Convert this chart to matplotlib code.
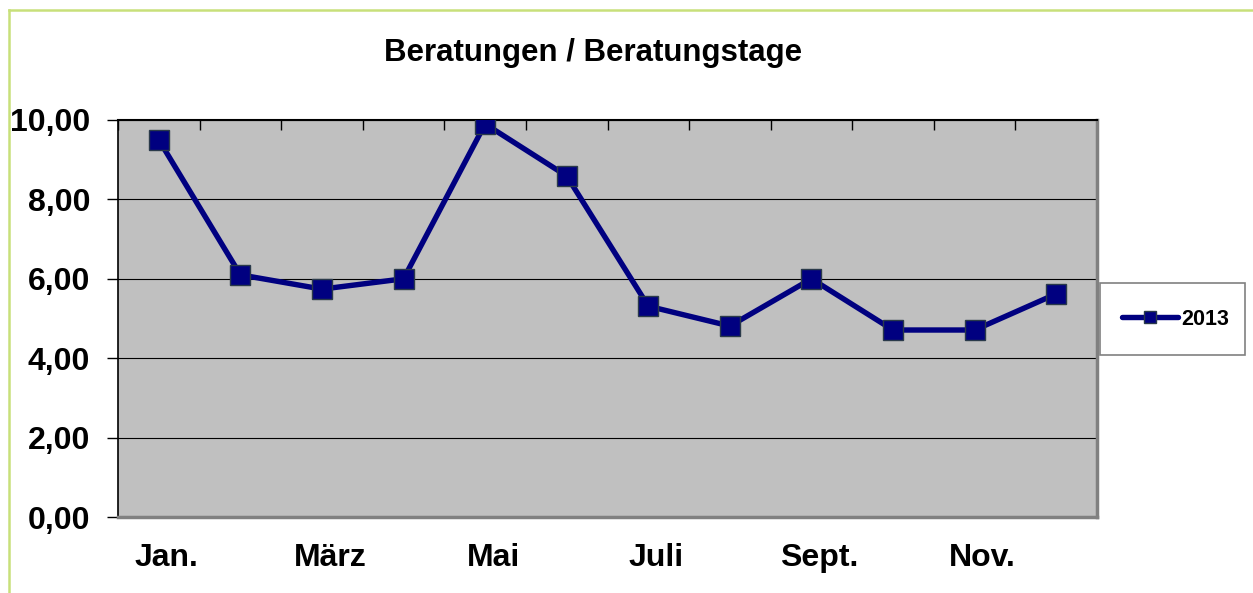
import matplotlib.pyplot as plt
from matplotlib.lines import Line2D
from matplotlib.patches import Rectangle
from matplotlib.transforms import ScaledTranslation

MONTHS = ["Jan.", "Feb.", "März", "April", "Mai", "Juni",
          "Juli", "Aug.", "Sept.", "Okt.", "Nov.", "Dez."]
VALUES_2013 = [9.50, 6.10, 5.74, 6.00, 9.90, 8.59, 5.31, 4.81, 6.00, 4.71, 4.71, 5.62]
Y_TICKS = [0, 2, 4, 6, 8, 10]
SERIES_LABEL = "2013"
TITLE = "Beratungen / Beratungstage"

NAVY = "#000080"
MARKER_EDGE = "#2A3A4A"
PLOT_BG = "#C0C0C0"
BORDER_GRAY = "#808080"
FRAME_GREEN = "#C8E07A"

W, H = 1253, 593
fig = plt.figure(figsize=(W / 100, H / 100), dpi=100, facecolor="white")
plt.rcParams["font.family"] = ["Liberation Sans", "DejaVu Sans"]

# plot area in pixel coords -> figure fractions
left, right, top, bottom = 118, 1097, 120, 517
ax = fig.add_axes([left / W, 1 - bottom / H, (right - left) / W, (bottom - top) / H])
ax.set_facecolor(PLOT_BG)

x = list(range(len(MONTHS)))
ax.plot(x, VALUES_2013, color=NAVY, linewidth=3.9, marker="s", markersize=14,
        markerfacecolor=NAVY, markeredgecolor=MARKER_EDGE, markeredgewidth=1.0,
        solid_joinstyle="round", zorder=3)

ax.set_xlim(-0.5, len(MONTHS) - 0.5)
ax.set_ylim(0, 10)

ax.set_yticks(Y_TICKS)
ax.set_yticklabels([f"{v:.2f}".replace(".", ",") for v in Y_TICKS],
                   fontsize=23, fontweight="bold")
ax.tick_params(axis="y", direction="out", length=8, width=1, color="black", pad=12)
ax.yaxis.grid(True, color="black", linewidth=0.8)
ax.set_axisbelow(True)

ax.set_xticks(x[::2])
ax.set_xticklabels(MONTHS[::2], fontsize=23, fontweight="bold")
ax.set_xticks([i - 0.5 for i in range(len(MONTHS) + 1)], minor=True)
ax.tick_params(axis="x", which="major", length=0, pad=19)
ax.tick_params(axis="x", which="minor", bottom=False, top=True, direction="in",
               length=7, width=1, color="black")
# Excel puts the category labels a bit right of the point centres
shift = ScaledTranslation(8 / 100, 0, fig.dpi_scale_trans)
for lbl in ax.get_xticklabels():
    lbl.set_transform(lbl.get_transform() + shift)

ax.spines["top"].set_color("black")
ax.spines["top"].set_linewidth(1.5)
ax.spines["left"].set_color("black")
ax.spines["left"].set_linewidth(1.2)
for side in ("right", "bottom"):
    ax.spines[side].set_color(BORDER_GRAY)
    ax.spines[side].set_linewidth(2.5)

fig.text(593 / W, 1 - 53 / H, TITLE, ha="center", va="center",
         fontsize=22.5, fontweight="bold")

# legend box
lx0, lx1, ly0, ly1 = 1100, 1245, 283, 355
fig.patches.append(Rectangle((lx0 / W, 1 - ly1 / H), (lx1 - lx0) / W, (ly1 - ly0) / H,
                             transform=fig.transFigure, facecolor="white",
                             edgecolor=BORDER_GRAY, linewidth=1.2))
handle = Line2D([], [], color=NAVY, linewidth=3.9, marker="s", markersize=9,
                markerfacecolor=NAVY, markeredgecolor=MARKER_EDGE, solid_capstyle="round")
fig.legend([handle], [SERIES_LABEL], loc="center",
           bbox_to_anchor=(lx0 / W + 3 / W, 1 - ly1 / H, (lx1 - lx0) / W, (ly1 - ly0) / H),
           frameon=False, prop={"size": 15.5, "weight": "bold"},
           handlelength=2.6, handletextpad=0.15)

# outer green frame (right/bottom edges fall outside the image)
fig.add_artist(Line2D([9 / W, 9 / W], [0, 1 - 10 / H], transform=fig.transFigure,
                      color=FRAME_GREEN, linewidth=1.8))
fig.add_artist(Line2D([9 / W, 1], [1 - 10 / H, 1 - 10 / H], transform=fig.transFigure,
                      color=FRAME_GREEN, linewidth=1.8))

fig.savefig("out.png", dpi=100)
